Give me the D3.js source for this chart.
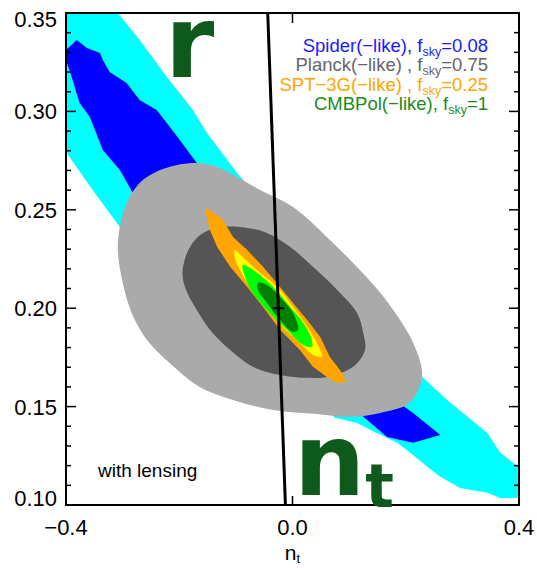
<!DOCTYPE html>
<html>
<head>
<meta charset="utf-8">
<script src="https://cdn.jsdelivr.net/npm/d3@7"></script>
<style>
  body { margin: 0; background: #ffffff; }
  svg text { font-family: "Liberation Sans", Arial, Helvetica, sans-serif; }
</style>
</head>
<body>
<div id="chart"></div>
<script>
// *********************************DATA****************************************
// Axis ticks
var xTicks = [-0.4, 0.0, 0.4];
var xTickLabels = ["\u22120.4", "0.0", "0.4"];
var yTicks = [0.10, 0.15, 0.20, 0.25, 0.30, 0.35];
var yTickLabels = ["0.10", "0.15", "0.20", "0.25", "0.30", "0.35"];

// Contours, [n_t, r] pairs
// Spider(-like): 95% (cyan) and 68% (blue)
var spider95 = [[-0.4, 0.35], [-0.3085, 0.35], [-0.270, 0.3363], [-0.222, 0.3175],
  [-0.176, 0.3007], [-0.151, 0.2890], [-0.098, 0.2687], [0.229, 0.1651],
  [0.273, 0.1534], [0.309, 0.1448], [0.344, 0.1366], [0.367, 0.1265],
  [0.390, 0.1214], [0.40, 0.1194], [0.40, 0.1036], [0.367, 0.1036],
  [0.344, 0.1062], [0.296, 0.1087], [0.261, 0.1143], [0.238, 0.1194],
  [0.208, 0.1265], [0.185, 0.1316], [0.149, 0.1366], [0.114, 0.1417],
  [0.075, 0.1443], [-0.305, 0.2413], [-0.353, 0.2601], [-0.4, 0.2794]];

var spider68 = [[-0.4, 0.3312], [-0.381, 0.3363], [-0.363, 0.3322], [-0.340, 0.3297],
  [-0.335, 0.3261], [-0.323, 0.3200], [-0.293, 0.3144], [-0.270, 0.3058],
  [-0.240, 0.3007], [-0.222, 0.2941], [-0.199, 0.2855], [-0.169, 0.2738],
  [0.190, 0.1514], [0.213, 0.1468], [0.243, 0.1397], [0.261, 0.1356],
  [0.213, 0.1316], [0.167, 0.1346], [0.125, 0.1448], [-0.282, 0.2586],
  [-0.305, 0.2702], [-0.335, 0.2804], [-0.358, 0.2972], [-0.376, 0.3043],
  [-0.390, 0.3175], [-0.4, 0.3261]];

// Planck(-like): 95% (light grey) and 68% (dark grey)
var planck95 = [[-0.176, 0.2738], [-0.133, 0.2718], [-0.098, 0.2667], [-0.057, 0.2601],
  [0.001, 0.2514], [0.066, 0.2347], [0.119, 0.2194], [0.155, 0.2078],
  [0.190, 0.1940], [0.213, 0.1824], [0.229, 0.1671], [0.220, 0.1570],
  [0.202, 0.1509], [0.155, 0.1468], [0.102, 0.1448], [0.043, 0.1463],
  [-0.034, 0.1483], [-0.105, 0.1534], [-0.164, 0.1600], [-0.217, 0.1722],
  [-0.257, 0.1839], [-0.284, 0.1976], [-0.301, 0.2144], [-0.3085, 0.2296],
  [-0.305, 0.2413], [-0.293, 0.2535], [-0.270, 0.2636], [-0.234, 0.2702]];

var planck68 = [[-0.123, 0.2413], [-0.080, 0.2408], [-0.045, 0.2382], [-0.004, 0.2311],
  [0.036, 0.2210], [0.079, 0.2093], [0.114, 0.1976], [0.125, 0.1874],
  [0.128, 0.1788], [0.107, 0.1702], [0.061, 0.1651], [0.026, 0.1646],
  [-0.022, 0.1661], [-0.070, 0.1702], [-0.110, 0.1788], [-0.141, 0.1874],
  [-0.169, 0.1991], [-0.190, 0.2108], [-0.194, 0.2194], [-0.181, 0.2311],
  [-0.158, 0.2382]];

// SPT-3G(-like): 95% (orange) and 68% (yellow)
var spt95 = [[-0.155, 0.2509], [-0.141, 0.2489], [-0.123, 0.2448], [-0.105, 0.2362],
  [-0.080, 0.2296], [-0.052, 0.2210], [-0.022, 0.2108], [0.001, 0.2027],
  [0.026, 0.1940], [0.049, 0.1854], [0.066, 0.1752], [0.084, 0.1686],
  [0.096, 0.1625], [0.079, 0.1620], [0.061, 0.1651], [0.036, 0.1702],
  [0.013, 0.1788], [-0.022, 0.1890], [-0.052, 0.2006], [-0.080, 0.2108],
  [-0.110, 0.2210], [-0.133, 0.2311], [-0.146, 0.2398], [-0.153, 0.2484]];

var spt68 = [[-0.102, 0.2296], [-0.088, 0.2260], [-0.063, 0.2194], [-0.027, 0.2108],
  [0.001, 0.2006], [0.026, 0.1905], [0.043, 0.1824], [0.052, 0.1752],
  [0.036, 0.1763], [0.013, 0.1824], [-0.017, 0.1905], [-0.045, 0.2006],
  [-0.075, 0.2108], [-0.093, 0.2194], [-0.102, 0.2260]];

// CMBPol(-like): 95% (green) and 68% (dark green)
var cmbpol95 = [[-0.088, 0.2220], [-0.070, 0.2194], [-0.034, 0.2108], [-0.004, 0.2006],
  [0.019, 0.1925], [0.034, 0.1839], [0.034, 0.1803], [0.019, 0.1813],
  [-0.010, 0.1890], [-0.040, 0.1976], [-0.070, 0.2078], [-0.084, 0.2159]];

var cmbpol68 = [[-0.061, 0.2128], [-0.045, 0.2118], [-0.022, 0.2057], [0.001, 0.1976],
  [0.010, 0.1890], [0.001, 0.1879], [-0.022, 0.1940], [-0.045, 0.2027],
  [-0.061, 0.2093]];

// Consistency relation n_t = -r/8 (end points) and the fiducial model
var consistencyLine = [[-0.04375, 0.35], [-0.0125, 0.10]];
var fiducial = [-0.025, 0.20];

// Legend
var legendNames = ["Spider(\u2212like), f", "Planck(\u2212like) , f",
  "SPT\u22123G(\u2212like) , f", "CMBPol(\u2212like), f"];
var legendFsky = ["=0.08", "=0.75", "=0.25", "=1"];
var legendColors = ["#1a1aff", "#666666", "#ffa500", "#1a8c1a"];

// **************************CANVAS SET UP**************************************
var margin = {left: 66, right: 18, top: 13, bottom: 63};
var svgWidth = 537,
    svgHeight = 568;
var chartWidth = svgWidth - margin.left - margin.right,
    chartHeight = svgHeight - margin.top - margin.bottom;

var svg = d3.select("#chart")
  .append("svg")
    .attr("width", svgWidth)
    .attr("height", svgHeight);

var chartGroup = svg.append("g")
  .attr("transform", `translate(${margin.left}, ${margin.top})`);

// *******************************SCALES****************************************
var xScale = d3.scaleLinear().domain([-0.4, 0.4]).range([0, chartWidth]);
var yScale = d3.scaleLinear().domain([0.10, 0.35]).range([chartHeight, 0]);

chartGroup.append("clipPath")
    .attr("id", "plotClip")
  .append("rect")
    .attr("width", chartWidth)
    .attr("height", chartHeight);

// *******************************CONTOURS**************************************
var jagged = d3.line()
  .x(d => xScale(d[0]))
  .y(d => yScale(d[1]))
  .curve(d3.curveLinearClosed);

var smooth = d3.line()
  .x(d => xScale(d[0]))
  .y(d => yScale(d[1]))
  .curve(d3.curveCatmullRomClosed.alpha(0.5));

var contours = [
  {pts: spider95, fill: "#00ffff", line: jagged},
  {pts: spider68, fill: "#0000ff", line: jagged},
  {pts: planck95, fill: "#aaaaaa", line: smooth},
  {pts: planck68, fill: "#555555", line: smooth},
  {pts: spt95, fill: "#ffa500", line: jagged},
  {pts: spt68, fill: "#ffff00", line: smooth},
  {pts: cmbpol95, fill: "#00ff00", line: smooth},
  {pts: cmbpol68, fill: "#007f00", line: smooth}
];

var contourGroup = chartGroup.append("g")
  .attr("clip-path", "url(#plotClip)");

contourGroup.selectAll("path")
  .data(contours)
  .enter()
  .append("path")
    .attr("d", d => d.line(d.pts))
    .attr("fill", d => d.fill)
    .attr("stroke", "none");

// Consistency relation line
contourGroup.append("path")
  .attr("d", d3.line().x(d => xScale(d[0])).y(d => yScale(d[1]))(consistencyLine))
  .attr("stroke", "#000")
  .attr("stroke-width", 3)
  .attr("fill", "none");

// Fiducial cross
chartGroup.append("line")
  .attr("x1", xScale(fiducial[0]) - 6)
  .attr("x2", xScale(fiducial[0]) + 6)
  .attr("y1", yScale(fiducial[1]))
  .attr("y2", yScale(fiducial[1]))
  .attr("stroke", "#000")
  .attr("stroke-width", 2);

// *********************************AXES****************************************
// Frame
chartGroup.append("rect")
  .attr("width", chartWidth)
  .attr("height", chartHeight)
  .attr("fill", "none")
  .attr("stroke", "#000")
  .attr("stroke-width", 2);

// y ticks on both sides (major every 0.05, minor every 0.01)
var yMinor = yScale.ticks(25);
var tickGroup = chartGroup.append("g")
  .attr("stroke", "#000")
  .attr("stroke-width", 1.5);

yMinor.forEach(function(t){
  var major = yTicks.some(m => Math.abs(m - t) < 1e-6);
  var len = major ? 10 : 5;
  tickGroup.append("line")
    .attr("x1", 0).attr("x2", len)
    .attr("y1", yScale(t)).attr("y2", yScale(t));
  tickGroup.append("line")
    .attr("x1", chartWidth).attr("x2", chartWidth - len)
    .attr("y1", yScale(t)).attr("y2", yScale(t));
});

xTicks.forEach(function(t){
  tickGroup.append("line")
    .attr("x1", xScale(t)).attr("x2", xScale(t))
    .attr("y1", chartHeight).attr("y2", chartHeight - 9);
  tickGroup.append("line")
    .attr("x1", xScale(t)).attr("x2", xScale(t))
    .attr("y1", 0).attr("y2", 10);
});

// Tick labels
chartGroup.selectAll(".ylab")
  .data(yTicks)
  .enter()
  .append("text")
    .attr("class", "ylab")
    .attr("x", -9)
    .attr("y", (d, i) => yScale(d) + (i === 0 ? 1 : (i === yTicks.length - 1 ? 14 : 8)))
    .attr("text-anchor", "end")
    .style("font-size", "22px")
    .text((d, i) => yTickLabels[i]);

chartGroup.selectAll(".xlab")
  .data(xTicks)
  .enter()
  .append("text")
    .attr("class", "xlab")
    .attr("x", d => xScale(d))
    .attr("y", chartHeight + 30)
    .attr("text-anchor", "middle")
    .style("font-size", "22px")
    .text((d, i) => xTickLabels[i]);

// x-axis title n_t
var xTitle = chartGroup.append("text")
  .attr("x", xScale(0))
  .attr("y", chartHeight + 55)
  .attr("text-anchor", "middle")
  .style("font-size", "21px");
xTitle.append("tspan").text("n");
xTitle.append("tspan").attr("dy", 3).style("font-size", "13px").text("t");

// *********************************LABELS**************************************
var legendGroup = chartGroup.append("g");
legendNames.forEach(function(name, i){
  var txt = legendGroup.append("text")
    .attr("x", 488 - margin.left)
    .attr("y", 52 - margin.top + i * 19.4)
    .attr("text-anchor", "end")
    .attr("fill", legendColors[i])
    .style("font-size", "18.5px");
  txt.append("tspan").text(name);
  txt.append("tspan").attr("dy", 4).style("font-size", "12.5px").text("sky");
  txt.append("tspan").attr("dy", -4).text(legendFsky[i]);
});

// Big parameter letters
chartGroup.append("text")
  .attr("x", 165 - margin.left)
  .attr("y", 77 - margin.top)
  .attr("fill", "#0e5a1c")
  .style("font-family", "'DejaVu Sans', sans-serif")
  .style("font-weight", "bold")
  .style("font-size", "100px")
  .text("r");

var ntLabel = chartGroup.append("text")
  .attr("x", 294 - margin.left)
  .attr("y", 495 - margin.top)
  .attr("fill", "#0e5a1c")
  .style("font-family", "'DejaVu Sans', sans-serif")
  .style("font-weight", "bold")
  .style("font-size", "100px");
ntLabel.append("tspan").text("n");
ntLabel.append("tspan").attr("dy", 12).style("font-size", "60px").text("t");

chartGroup.append("text")
  .attr("x", 98 - margin.left)
  .attr("y", 477 - margin.top)
  .style("font-size", "19px")
  .text("with lensing");
</script>
</body>
</html>
